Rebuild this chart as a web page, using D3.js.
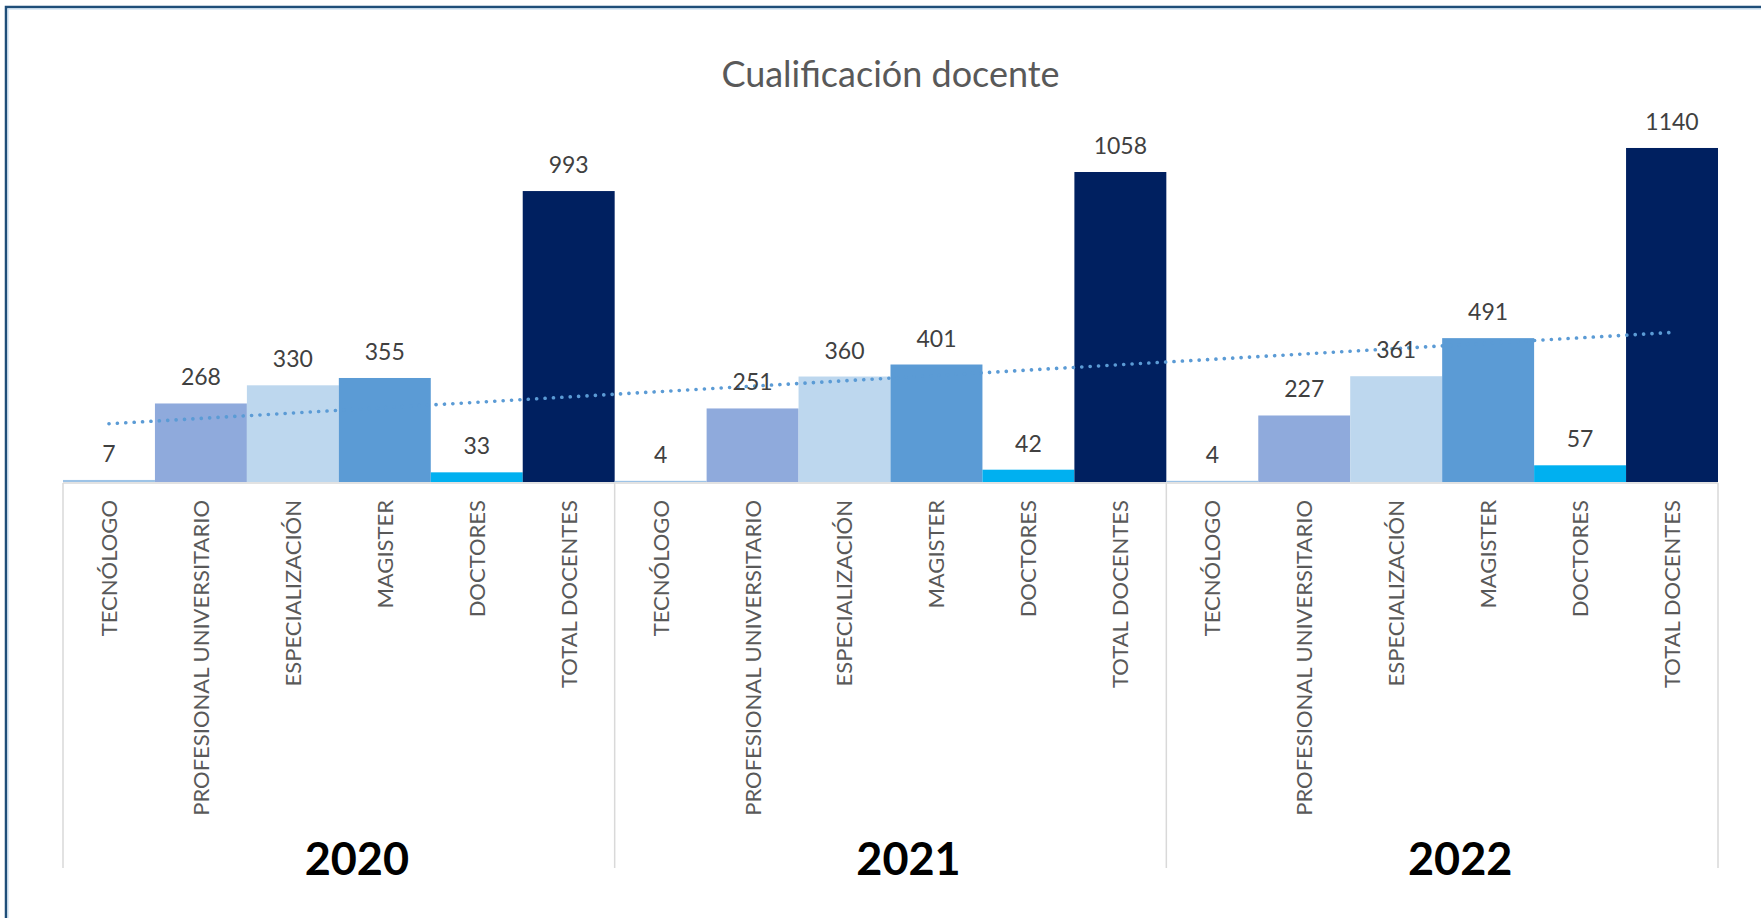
<!DOCTYPE html>
<html>
<head>
<meta charset="utf-8">
<script src="https://cdn.jsdelivr.net/npm/d3@7"></script>
<style>
  body { margin: 0; background: #fff; }
  svg { display: block; font-family: Lato, "Open Sans", sans-serif; }
  .cat text { fill: #595959; font-size: 22px; font-family: Lato, "Open Sans", sans-serif; }
</style>
</head>
<body>
<div id="chart"></div>
<script>
var years = ["2020", "2021", "2022"];
var categories = ["TECNÓLOGO", "PROFESIONAL UNIVERSITARIO", "ESPECIALIZACIÓN", "MAGISTER", "DOCTORES", "TOTAL DOCENTES"];
var values2020 = [7, 268, 330, 355, 33, 993];
var values2021 = [4, 251, 360, 401, 42, 1058];
var values2022 = [4, 227, 361, 491, 57, 1140];
var yTicks = [0, 1200];

var barColors = ["#9dc3e6", "#8faadc", "#bdd7ee", "#5b9bd5", "#00b0f0", "#002060"];

var data = [];
[values2020, values2021, values2022].forEach(function (vals, i) {
  vals.forEach(function (v, j) {
    data.push({ key: years[i] + "|" + categories[j], year: years[i], cat: j, value: v });
  });
});

var W = 1761, H = 918;
var plotLeft = 63, plotRight = 1718, plotBase = 482, plotTop = 130.4;

var svg = d3.select("#chart").append("svg")
  .attr("width", W)
  .attr("height", H);

// frame
svg.append("rect")
  .attr("x", 6).attr("y", 7)
  .attr("width", W + 20).attr("height", H + 20)
  .attr("fill", "none")
  .attr("stroke", "#1f4e79")
  .attr("stroke-width", 2.5);
svg.append("rect")
  .attr("x", 8).attr("y", 9)
  .attr("width", W + 20).attr("height", H + 20)
  .attr("fill", "none")
  .attr("stroke", "#bdd7ee")
  .attr("stroke-width", 1);

var x = d3.scaleBand()
  .domain(data.map(function (d) { return d.key; }))
  .range([plotLeft, plotRight])
  .paddingInner(0)
  .paddingOuter(0);

var y = d3.scaleLinear()
  .domain([yTicks[0], yTicks[yTicks.length - 1]])
  .range([plotBase, plotTop]);

var xYear = d3.scaleBand()
  .domain(years)
  .range([plotLeft, plotRight]);

// title
svg.append("text")
  .attr("x", (plotLeft + plotRight) / 2)
  .attr("y", 87)
  .attr("text-anchor", "middle")
  .attr("fill", "#595959")
  .style("font-size", "36px")
  .text("Cualificación docente");

// axis line under bars
svg.append("line")
  .attr("x1", plotLeft).attr("x2", plotRight)
  .attr("y1", plotBase + 1).attr("y2", plotBase + 1)
  .attr("stroke", "#d9d9d9").attr("stroke-width", 1.5);

// bars
svg.append("g").selectAll("rect")
  .data(data)
  .join("rect")
  .attr("x", function (d) { return x(d.key); })
  .attr("y", function (d) { return y(d.value); })
  .attr("width", x.bandwidth())
  .attr("height", function (d) { return y(0) - y(d.value); })
  .attr("fill", function (d) { return barColors[d.cat]; });

// linear trend line (least squares over all bars)
var mx = d3.mean(data, function (d, i) { return i + 1; });
var my = d3.mean(data, function (d) { return d.value; });
var sxy = d3.sum(data, function (d, i) { return (i + 1 - mx) * (d.value - my); });
var sxx = d3.sum(data, function (d, i) { return (i + 1 - mx) * (i + 1 - mx); });
var slope = sxy / sxx, icpt = my - slope * mx;

var trend = d3.line()
  .x(function (d) { return x(d.key) + x.bandwidth() / 2; })
  .y(function (d, i) { return y(icpt + slope * (i + 1)); });

svg.append("path")
  .datum(data)
  .attr("d", trend)
  .attr("fill", "none")
  .attr("stroke", "#5b9bd5")
  .attr("stroke-width", 3.6)
  .attr("stroke-linecap", "round")
  .attr("stroke-dasharray", "0.1,8.3");

// value labels
svg.append("g").selectAll("text")
  .data(data)
  .join("text")
  .attr("x", function (d) { return x(d.key) + x.bandwidth() / 2; })
  .attr("y", function (d) { return y(d.value) - 18; })
  .attr("text-anchor", "middle")
  .attr("fill", "#404040")
  .style("font-size", "23px")
  .text(function (d) { return d.value; });

// category axis
var xAxis = d3.axisBottom(x)
  .tickSize(0)
  .tickFormat(function (k) { return k.split("|")[1]; });

var gx = svg.append("g")
  .attr("class", "cat")
  .attr("transform", "translate(0," + plotBase + ")")
  .call(xAxis)
  .attr("font-family", null)
  .attr("font-size", null);
gx.select(".domain").remove();
gx.selectAll("text")
  .attr("transform", "rotate(-90)")
  .attr("x", -18)
  .attr("y", 0)
  .attr("dy", "0.36em")
  .attr("text-anchor", "end");

// group separators
var seps = years.map(function (yr) { return xYear(yr); }).concat([plotRight]);
svg.append("g").selectAll("line")
  .data(seps)
  .join("line")
  .attr("x1", function (d) { return d; })
  .attr("x2", function (d) { return d; })
  .attr("y1", plotBase + 1)
  .attr("y2", 868)
  .attr("stroke", "#d9d9d9")
  .attr("stroke-width", 1.5);

// year labels
svg.append("g").selectAll("text")
  .data(years)
  .join("text")
  .attr("x", function (d) { return xYear(d) + xYear.bandwidth() / 2 + 18; })
  .attr("y", 875)
  .attr("text-anchor", "middle")
  .attr("fill", "#000")
  .style("font-size", "45px")
  .style("font-weight", "bold")
  .text(function (d) { return d; });
</script>
</body>
</html>
